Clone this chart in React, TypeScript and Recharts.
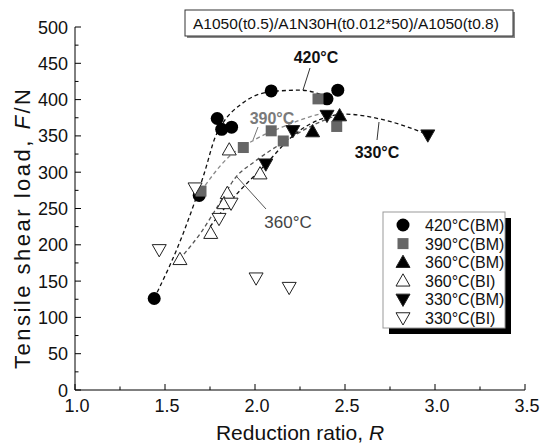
import React from 'react';
import { ComposedChart, Line, Scatter, XAxis, YAxis } from 'recharts';

// measured points, Reduction ratio R vs tensile shear load F (N)
const bm420 = [
  { x: 1.44, y: 126 }, { x: 1.69, y: 268 }, { x: 1.79, y: 374 }, { x: 1.815, y: 359 },
  { x: 1.87, y: 362 }, { x: 2.09, y: 412 }, { x: 2.4, y: 401 }, { x: 2.46, y: 413 },
];
const bm390 = [
  { x: 1.7, y: 274 }, { x: 1.935, y: 334 }, { x: 2.09, y: 357 }, { x: 2.157, y: 343 },
  { x: 2.35, y: 401 }, { x: 2.454, y: 363 },
];
const bm360 = [{ x: 2.32, y: 356 }, { x: 2.47, y: 378 }];
const bi360 = [
  { x: 1.857, y: 331 }, { x: 2.028, y: 298 }, { x: 1.846, y: 271 }, { x: 1.828, y: 257 },
  { x: 1.754, y: 216 }, { x: 1.583, y: 180 },
];
const bm330 = [{ x: 2.06, y: 311 }, { x: 2.21, y: 357 }, { x: 2.4, y: 378 }, { x: 2.96, y: 351 }];
const bi330 = [
  { x: 1.667, y: 278 }, { x: 1.867, y: 257 }, { x: 1.8, y: 236 }, { x: 1.468, y: 193 },
  { x: 2.006, y: 154 }, { x: 2.19, y: 141 },
];

// hand-drawn trend curves
const fit420 = [
  { x: 1.44, y: 126 }, { x: 1.6, y: 215 }, { x: 1.72, y: 300 }, { x: 1.78, y: 349 },
  { x: 1.82, y: 367 }, { x: 1.93, y: 395 }, { x: 2.09, y: 411 }, { x: 2.25, y: 413 }, { x: 2.42, y: 402 },
];
const fit390 = [
  { x: 1.7, y: 274 }, { x: 1.85, y: 320 }, { x: 2.0, y: 345 }, { x: 2.15, y: 362 },
  { x: 2.3, y: 376 }, { x: 2.42, y: 384 },
];
const fit360 = [
  { x: 1.58, y: 180 }, { x: 1.7, y: 217 }, { x: 1.8, y: 256 }, { x: 1.89, y: 292 },
  { x: 2.0, y: 315 }, { x: 2.15, y: 340 }, { x: 2.3, y: 362 }, { x: 2.47, y: 380 },
];
const fit330 = [
  { x: 1.75, y: 225 }, { x: 1.87, y: 262 }, { x: 2.06, y: 311 }, { x: 2.21, y: 350 },
  { x: 2.4, y: 376 }, { x: 2.5, y: 380 }, { x: 2.7, y: 373 }, { x: 2.96, y: 352 },
];

const xTicks = [1, 1.25, 1.5, 1.75, 2, 2.25, 2.5, 2.75, 3, 3.25, 3.5];
const yTicks = [0, 25, 50, 75, 100, 125, 150, 175, 200, 225, 250, 275, 300, 325, 350, 375, 400, 425, 450, 475, 500];

const series = [
  { name: '420°C(BM)', data: bm420, kind: 'circle' },
  { name: '390°C(BM)', data: bm390, kind: 'square' },
  { name: '360°C(BM)', data: bm360, kind: 'up' },
  { name: '360°C(BI)', data: bi360, kind: 'upOpen' },
  { name: '330°C(BM)', data: bm330, kind: 'down' },
  { name: '330°C(BI)', data: bi330, kind: 'downOpen' },
];
const curves = [
  { key: 'c420', data: fit420, color: '#111' },
  { key: 'c390', data: fit390, color: '#888' },
  { key: 'c360', data: fit360, color: '#555' },
  { key: 'c330', data: fit330, color: '#111' },
];

const font = '"Liberation Sans", Arial, sans-serif';

function Marker({ cx, cy, kind }: { cx: number; cy: number; kind: string }) {
  if (cx == null || cy == null) return null;
  const s = 7;
  switch (kind) {
    case 'circle':
      return <circle cx={cx} cy={cy} r={6.5} fill="#000" />;
    case 'square':
      return <rect x={cx - 5.5} y={cy - 5.5} width={11} height={11} fill="#666" />;
    case 'up':
    case 'upOpen':
      return (
        <polygon
          points={`${cx},${cy - s} ${cx - s},${cy + s * 0.75} ${cx + s},${cy + s * 0.75}`}
          fill={kind === 'up' ? '#000' : '#fff'}
          stroke="#222"
          strokeWidth={1}
        />
      );
    default:
      return (
        <polygon
          points={`${cx},${cy + s} ${cx - s},${cy - s * 0.75} ${cx + s},${cy - s * 0.75}`}
          fill={kind === 'down' ? '#000' : '#fff'}
          stroke="#222"
          strokeWidth={1}
        />
      );
  }
}

const isMajor = (v: number, step: number) => Math.abs(v / step - Math.round(v / step)) < 1e-6;

const BottomTick = ({ x, y, payload }: any) => {
  const major = isMajor(payload.value, 0.5);
  return (
    <g>
      <line x1={x} x2={x} y1={y} y2={y - (major ? 6 : 3.5)} stroke="#000" />
      {major && (
        <text x={x + 2} y={y + 22} textAnchor="middle" fontSize={18} fontFamily={font} fill="#111">
          {payload.value.toFixed(1)}
        </text>
      )}
    </g>
  );
};
const TopTick = ({ x, y, payload }: any) => {
  const major = isMajor(payload.value, 0.5);
  return <line x1={x} x2={x} y1={y} y2={y + (major ? 6 : 3.5)} stroke="#000" />;
};
const LeftTick = ({ x, y, payload }: any) => {
  const major = isMajor(payload.value, 50);
  return (
    <g>
      <line x1={x} x2={x + (major ? 6 : 3.5)} y1={y} y2={y} stroke="#000" />
      {major && (
        <text x={x - 7} y={y + 6.5} textAnchor="end" fontSize={18} fontFamily={font} fill="#111">
          {payload.value}
        </text>
      )}
    </g>
  );
};
const RightTick = ({ x, y, payload }: any) => {
  const major = isMajor(payload.value, 50);
  return <line x1={x} x2={x - (major ? 6 : 3.5)} y1={y} y2={y} stroke="#000" />;
};

export default function App() {
  const legendTop = 212;
  const rowH = 18.6;
  return (
    <div style={{ position: 'absolute', left: 0, top: 0, width: 546, height: 445, background: '#fff' }}>
      <ComposedChart width={546} height={445} margin={{ top: 27, right: 21, bottom: 0, left: 0 }}>
        <XAxis
          xAxisId="b"
          type="number"
          dataKey="x"
          domain={[1, 3.5]}
          ticks={xTicks}
          interval={0}
          height={55}
          tickSize={0}
          tickMargin={0}
          tickLine={false}
          tick={<BottomTick />}
          axisLine={{ stroke: '#000' }}
          allowDataOverflow
        />
        <XAxis
          xAxisId="t"
          orientation="top"
          type="number"
          dataKey="x"
          domain={[1, 3.5]}
          ticks={xTicks}
          interval={0}
          height={0}
          tickSize={0}
          tickMargin={0}
          tickLine={false}
          tick={<TopTick />}
          axisLine={{ stroke: '#000' }}
          allowDataOverflow
        />
        <YAxis
          yAxisId="l"
          type="number"
          dataKey="y"
          domain={[0, 500]}
          ticks={yTicks}
          interval={0}
          width={75}
          tickSize={0}
          tickMargin={0}
          tickLine={false}
          tick={<LeftTick />}
          axisLine={{ stroke: '#000' }}
          allowDataOverflow
        />
        <YAxis
          yAxisId="r"
          orientation="right"
          type="number"
          dataKey="y"
          domain={[0, 500]}
          ticks={yTicks}
          interval={0}
          width={0}
          tickSize={0}
          tickMargin={0}
          tickLine={false}
          tick={<RightTick />}
          axisLine={{ stroke: '#000' }}
          allowDataOverflow
        />
        {curves.map((c) => (
          <Line
            key={c.key}
            xAxisId="b"
            yAxisId="l"
            data={c.data}
            dataKey="y"
            type="monotone"
            stroke={c.color}
            strokeWidth={1.3}
            strokeDasharray="4 3"
            dot={false}
            activeDot={false}
            isAnimationActive={false}
          />
        ))}
        {series.map((s) => (
          <Scatter
            key={s.name}
            xAxisId="b"
            yAxisId="l"
            name={s.name}
            data={s.data}
            dataKey="y"
            isAnimationActive={false}
            shape={(p: any) => <Marker cx={p.cx} cy={p.cy} kind={s.kind} />}
          />
        ))}
      </ComposedChart>

      <svg
        width={546}
        height={445}
        style={{ position: 'absolute', left: 0, top: 0, pointerEvents: 'none' }}
        fontFamily={font}
      >
        {/* sample label */}
        <rect x={187} y={12} width={328} height={26} fill="#888" />
        <rect x={185} y={10} width={328} height={26} fill="#fff" stroke="#333" />
        <text x={193} y={28.5} fontSize={15.5} fill="#111">
          A1050(t0.5)/A1N30H(t0.012*50)/A1050(t0.8)
        </text>

        {/* curve labels */}
        <text x={316} y={63} textAnchor="middle" fontSize={16} fontWeight="bold" fill="#111">420°C</text>
        <line x1={310} y1={68} x2={303} y2={90} stroke="#333" />
        <text x={272} y={124} textAnchor="middle" fontSize={16} fontWeight="bold" fill="#7a7a7a">390°C</text>
        <line x1={258} y1={127} x2={253} y2={140} stroke="#777" />
        <text x={288} y={228} textAnchor="middle" fontSize={17} fill="#444">360°C</text>
        <line x1={237} y1={177} x2={266} y2={209} stroke="#555" />
        <text x={377} y={158} textAnchor="middle" fontSize={16} fontWeight="bold" fill="#111">330°C</text>
        <line x1={379} y1={122} x2={377} y2={140} stroke="#333" />

        {/* legend */}
        <rect x={389} y={218} width={122} height={116} fill="#000" />
        <rect x={383} y={212} width={122} height={116} fill="#fff" stroke="#999" />
        {series.map((s, i) => {
          const cy = legendTop + 13 + i * rowH;
          return (
            <g key={s.name}>
              <Marker cx={403} cy={cy} kind={s.kind} />
              <text x={425} y={cy + 6} fontSize={16} fill="#111">{s.name}</text>
            </g>
          );
        })}

        {/* axis titles */}
        <text x={300} y={440} textAnchor="middle" fontSize={21} fill="#111">
          Reduction ratio, <tspan fontStyle="italic">R</tspan>
        </text>
        <text
          transform="translate(30,229) rotate(-90)"
          textAnchor="middle"
          fontSize={22}
          fill="#111"
          textLength={280}
          lengthAdjust="spacing"
        >
          Tensile shear load, <tspan fontStyle="italic">F</tspan>/N
        </text>
      </svg>
    </div>
  );
}
